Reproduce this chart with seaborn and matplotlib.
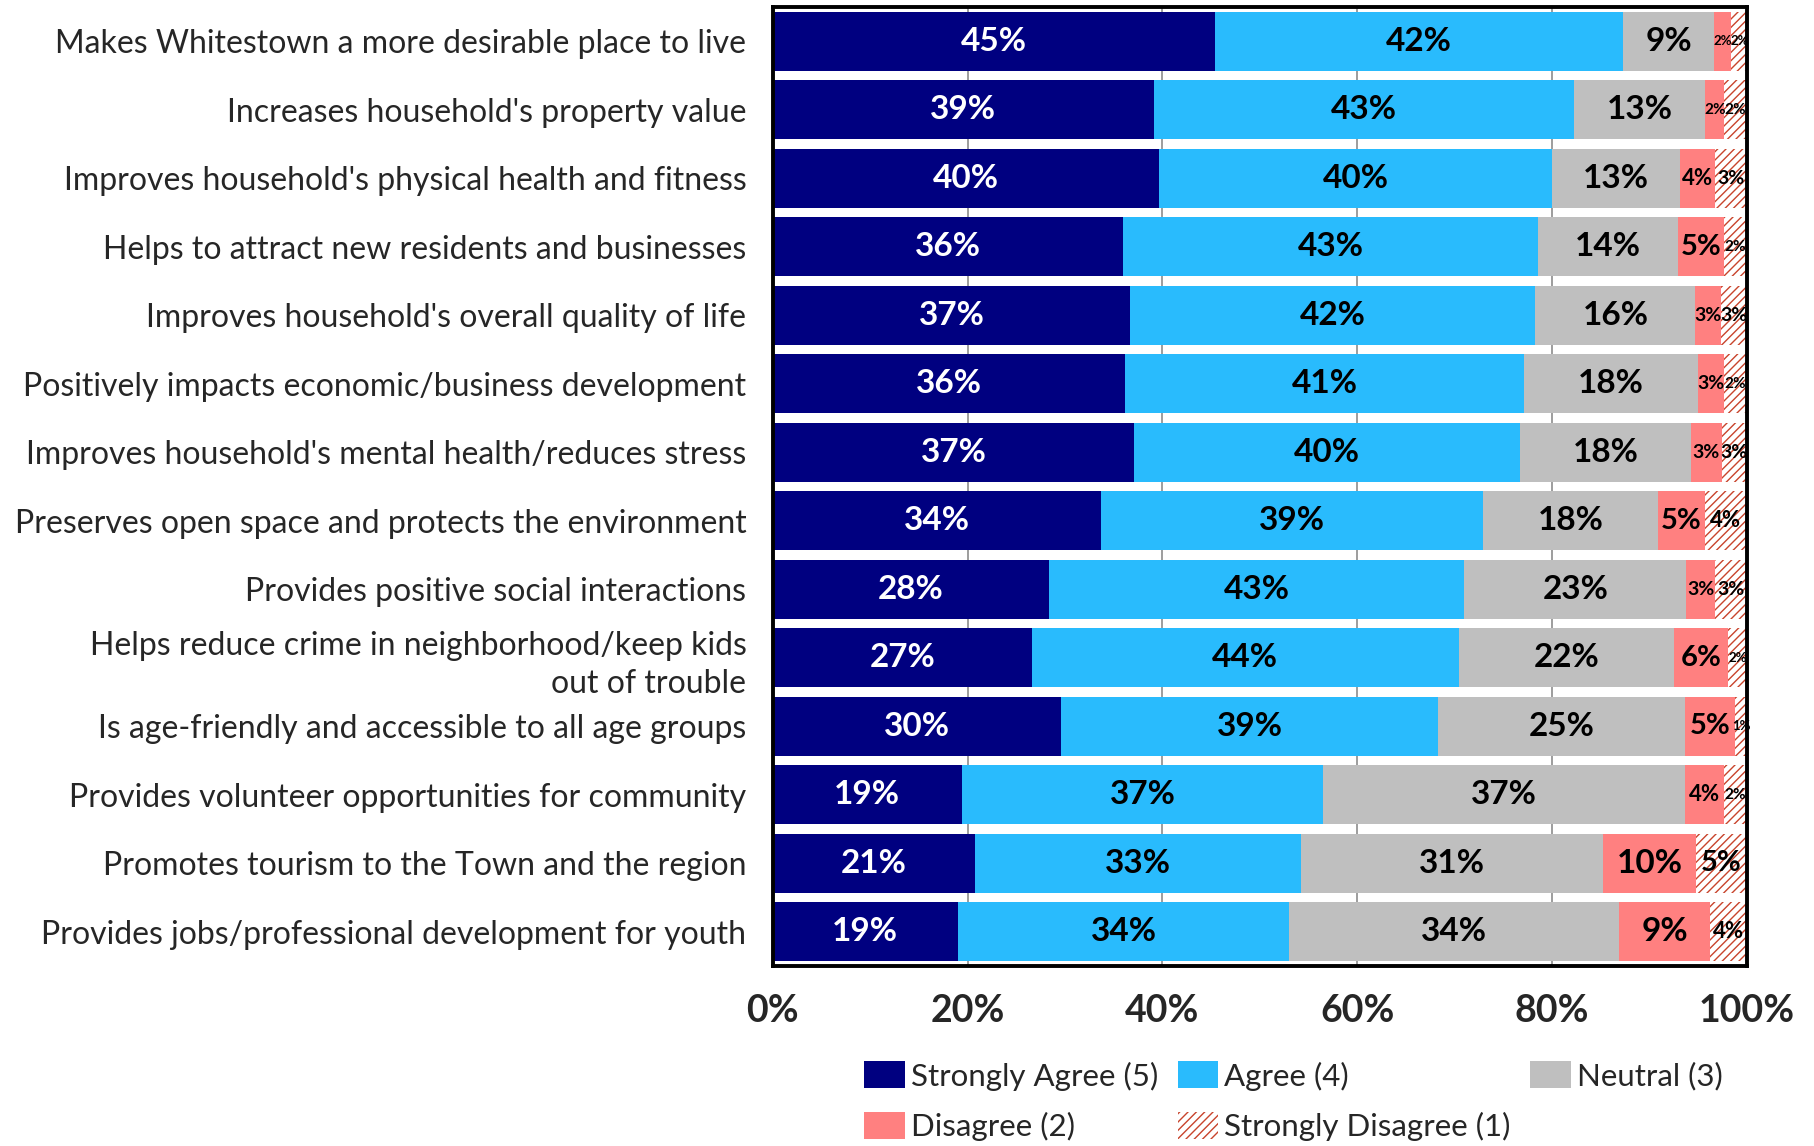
import matplotlib
matplotlib.use("Agg")
import matplotlib.pyplot as plt
from matplotlib.patches import Patch
import seaborn as sns
import numpy as np

# Survey statements (top to bottom)
statements = [
    "Makes Whitestown a more desirable place to live",
    "Increases household's property value",
    "Improves household's physical health and fitness",
    "Helps to attract new residents and businesses",
    "Improves household's overall quality of life",
    "Positively impacts economic/business development",
    "Improves household's mental health/reduces stress",
    "Preserves open space and protects the environment",
    "Provides positive social interactions",
    "Helps reduce crime in neighborhood/keep kids\nout of trouble",
    "Is age-friendly and accessible to all age groups",
    "Provides volunteer opportunities for community",
    "Promotes tourism to the Town and the region",
    "Provides jobs/professional development for youth",
]

# Share of responses (%) per rating
strongly_agree = [45.4, 39.1, 39.7, 36.0, 36.7, 36.2, 37.1, 33.7, 28.4, 26.6, 29.6, 19.4, 20.8, 19.0]
agree = [41.9, 43.2, 40.3, 42.6, 41.6, 40.9, 39.6, 39.2, 42.6, 43.8, 38.7, 37.1, 33.4, 34.0]
neutral = [9.3, 13.4, 13.1, 14.3, 16.4, 17.9, 17.6, 18.0, 22.8, 22.1, 25.3, 37.1, 31.0, 33.9]
disagree = [1.8, 2.0, 3.6, 4.8, 2.6, 2.6, 3.1, 4.8, 2.9, 5.6, 5.2, 4.1, 9.6, 9.3]
strongly_disagree = [1.7, 2.3, 3.3, 2.3, 2.7, 2.4, 2.6, 4.3, 3.3, 1.9, 1.2, 2.3, 5.2, 3.8]

series_names = ["Strongly Agree (5)", "Agree (4)", "Neutral (3)", "Disagree (2)", "Strongly Disagree (1)"]
tick_values = [0, 20, 40, 60, 80, 100]

colors = ["#000080", "#29BBFD", "#BFBFBF", "#FF8080", "white"]
hatch_color = "#C8442C"
text_colors = ["white", "black", "black", "black", "black"]

FONT = "Lato"
plt.rcParams["font.family"] = [FONT, "DejaVu Sans"]
sns.set_theme(style="white")
plt.rcParams["font.family"] = [FONT, "DejaVu Sans"]
plt.rcParams["hatch.linewidth"] = 1.0

series = [strongly_agree, agree, neutral, disagree, strongly_disagree]
vals = np.array(series, dtype=float)
cum = np.cumsum(vals, axis=0)

fig = plt.figure(figsize=(18.14, 11.46), dpi=100)
ax = fig.add_axes([0.426, 0.157, 0.537, 0.837])

# Stacked bars: draw cumulative totals from the outermost segment inwards
for i in range(len(series) - 1, -1, -1):
    sns.barplot(x=cum[i], y=statements, orient="h", color=colors[i],
                width=0.86, saturation=1, ax=ax, zorder=2)
    cont = ax.containers[-1]
    for bar in cont:
        bar.set_linewidth(0)
        if i == 4:
            bar.set_hatch("////")
            bar.set_edgecolor(hatch_color)
            bar.set_facecolor("white")


def label_size(v):
    if v < 2.0:
        return 9.5
    if v < 2.5:
        return 11
    if v < 3.5:
        return 14
    if v < 4.5:
        return 16
    if v < 7:
        return 21
    return 24


starts = cum - vals
for i in range(len(series)):
    for j in range(len(statements)):
        v = vals[i, j]
        ax.text(starts[i, j] + v / 2, j, f"{v:.0f}%", ha="center", va="center",
                fontsize=label_size(v), fontweight="bold", color=text_colors[i],
                family=[FONT, "DejaVu Sans"], zorder=5, clip_on=False)

ax.set_xlim(0, 100)
ax.set_ylim(len(statements) - 0.5, -0.5)
ax.set_xticks(tick_values)
ax.set_xticklabels([f"{t}%" for t in tick_values], fontsize=27, fontweight="bold")
ax.tick_params(axis="x", length=0, pad=20)
ax.tick_params(axis="y", length=0, pad=19, labelsize=23)
for lbl in ax.get_yticklabels():
    lbl.set_linespacing(1.35)
ax.set_xlabel("")
ax.set_ylabel("")
ax.xaxis.grid(True, color="#8C8C8C", linewidth=1.2, zorder=0)
ax.yaxis.grid(False)
ax.set_axisbelow(True)
for s in ax.spines.values():
    s.set_visible(True)
    s.set_color("black")
    s.set_linewidth(2.8)

handles = [Patch(facecolor=colors[k], edgecolor="none") for k in range(4)]
handles.append(Patch(facecolor="white", edgecolor=hatch_color, hatch="////", linewidth=0))
order = [0, 3, 1, 4, 2]
fig.legend([handles[k] for k in order], [series_names[k] for k in order],
           loc="center", bbox_to_anchor=(0.713, 0.039), ncol=3, frameon=False,
           fontsize=22.5, handlelength=1.3, handleheight=0.95, handletextpad=0.2,
           columnspacing=0.62, labelspacing=0.68)

fig.savefig("out.png", dpi=100)
